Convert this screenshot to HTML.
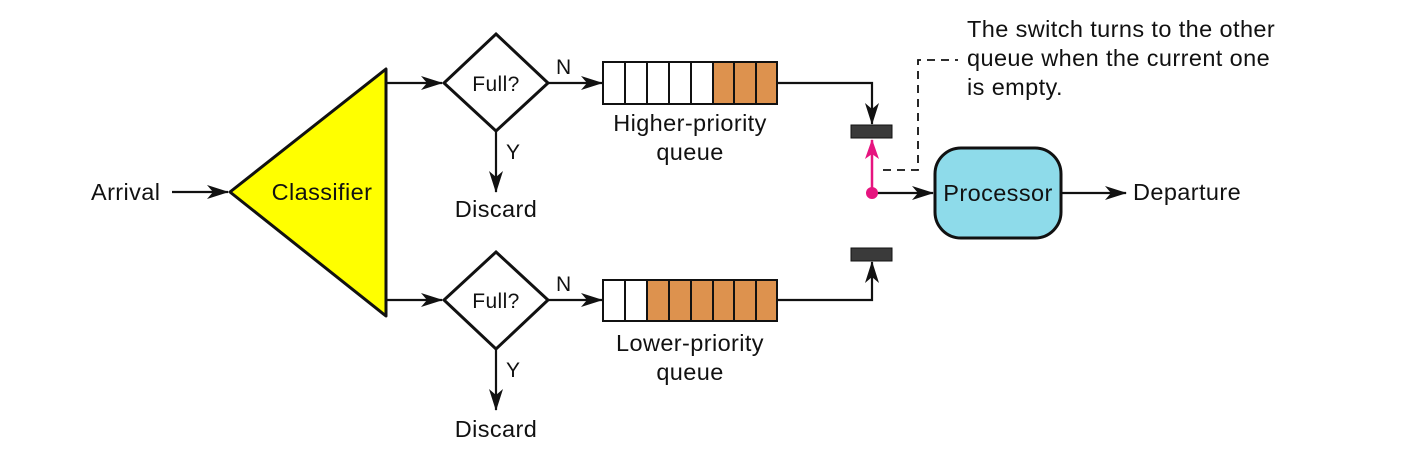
<!DOCTYPE html>
<html><head><style>
html,body{margin:0;padding:0;background:#fff;}
svg{display:block;}
text{font-family:"Liberation Sans",sans-serif;fill:#111;font-size:23.5px;letter-spacing:0.4px;}
</style></head><body>
<svg width="1404" height="463" viewBox="0 0 1404 463">
<defs>
<marker id="a" markerWidth="22" markerHeight="14" refX="21" refY="7" orient="auto" markerUnits="userSpaceOnUse"><path d="M0,0 L22,7 L0,14 L6,7 Z" fill="#111"/></marker>
<marker id="p" markerWidth="20" markerHeight="14" refX="19" refY="7" orient="auto" markerUnits="userSpaceOnUse"><path d="M0,0 L20,7 L0,14 L5,7 Z" fill="#e6147f"/></marker>
</defs>
<g stroke="#111" stroke-width="2.2" fill="none">
<line x1="172" y1="192" x2="228" y2="192" marker-end="url(#a)"/>
<line x1="386" y1="83" x2="442" y2="83" marker-end="url(#a)"/>
<line x1="386" y1="300" x2="442" y2="300" marker-end="url(#a)"/>
<line x1="548" y1="83" x2="602" y2="83" marker-end="url(#a)"/>
<line x1="548" y1="300" x2="602" y2="300" marker-end="url(#a)"/>
<line x1="496" y1="131" x2="496" y2="192" marker-end="url(#a)"/>
<line x1="496" y1="349" x2="496" y2="410" marker-end="url(#a)"/>
<polyline points="777,83 872,83 872,124" marker-end="url(#a)"/>
<polyline points="777,300 872,300 872,262" marker-end="url(#a)"/>
<line x1="872" y1="193" x2="933" y2="193" marker-end="url(#a)"/>
<line x1="1062" y1="193" x2="1126" y2="193" marker-end="url(#a)"/>
</g>
<polygon points="230,192 386,69 386,316" fill="#ffff00" stroke="#111" stroke-width="3" stroke-linejoin="round"/>
<text x="322" y="200" text-anchor="middle">Classifier</text>
<text x="91" y="200">Arrival</text>
<polygon points="496,34 548,83 496,131 444,83" fill="#fff" stroke="#111" stroke-width="3"/>
<polygon points="496,252 548,300 496,349 444,300" fill="#fff" stroke="#111" stroke-width="3"/>
<text x="496" y="91" text-anchor="middle" style="font-size:21px">Full?</text>
<text x="496" y="308" text-anchor="middle" style="font-size:21px">Full?</text>
<text x="556" y="74" style="font-size:21px">N</text>
<text x="556" y="291" style="font-size:21px">N</text>
<text x="506" y="159" style="font-size:21px">Y</text>
<text x="506" y="377" style="font-size:21px">Y</text>
<text x="496" y="217" text-anchor="middle">Discard</text>
<text x="496" y="437" text-anchor="middle">Discard</text>
<g stroke="#111" stroke-width="2">
<rect x="603" y="62" width="22" height="42" fill="#fff"/><rect x="625" y="62" width="22" height="42" fill="#fff"/><rect x="647" y="62" width="22" height="42" fill="#fff"/><rect x="669" y="62" width="22" height="42" fill="#fff"/><rect x="691" y="62" width="22" height="42" fill="#fff"/><rect x="713" y="62" width="21" height="42" fill="#dd924e"/><rect x="734" y="62" width="22" height="42" fill="#dd924e"/><rect x="756" y="62" width="21" height="42" fill="#dd924e"/>
<rect x="603" y="280" width="22" height="41" fill="#fff"/><rect x="625" y="280" width="22" height="41" fill="#fff"/><rect x="647" y="280" width="22" height="41" fill="#dd924e"/><rect x="669" y="280" width="22" height="41" fill="#dd924e"/><rect x="691" y="280" width="22" height="41" fill="#dd924e"/><rect x="713" y="280" width="21" height="41" fill="#dd924e"/><rect x="734" y="280" width="22" height="41" fill="#dd924e"/><rect x="756" y="280" width="21" height="41" fill="#dd924e"/>
</g>
<text x="690" y="131" text-anchor="middle">Higher-priority</text>
<text x="690" y="160" text-anchor="middle">queue</text>
<text x="690" y="351" text-anchor="middle">Lower-priority</text>
<text x="690" y="380" text-anchor="middle">queue</text>
<rect x="851" y="125" width="41" height="13" fill="#3a3a3a" stroke="#111" stroke-width="1"/>
<rect x="851" y="248" width="41" height="13" fill="#3a3a3a" stroke="#111" stroke-width="1"/>
<line x1="872" y1="193" x2="872" y2="140" stroke="#e6147f" stroke-width="2.5" marker-end="url(#p)"/>
<circle cx="872" cy="193" r="6" fill="#e6147f"/>
<polyline points="883,170 918,170 918,60 958,60" fill="none" stroke="#111" stroke-width="1.8" stroke-dasharray="8,6"/>
<rect x="935" y="148" width="126" height="90" rx="26" fill="#8edbea" stroke="#111" stroke-width="3"/>
<text x="998" y="201" text-anchor="middle">Processor</text>
<text x="1133" y="200">Departure</text>
<text x="967" y="37">The switch turns to the other</text>
<text x="967" y="66">queue when the current one</text>
<text x="967" y="95">is empty.</text>
</svg>
</body></html>
